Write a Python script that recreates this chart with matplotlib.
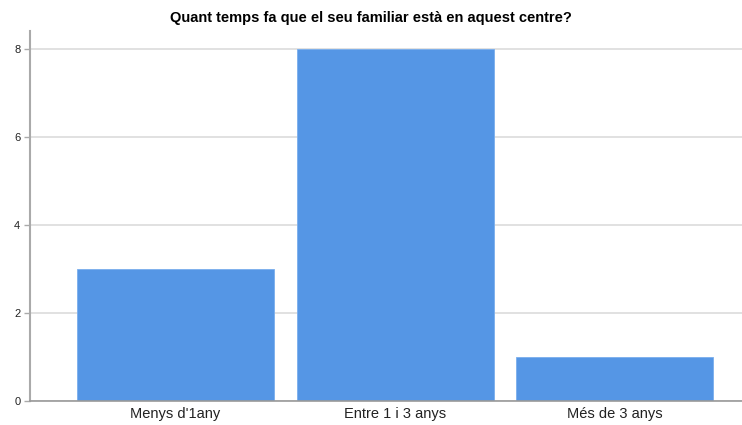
import matplotlib
matplotlib.use('Agg')
import matplotlib.pyplot as plt

plt.rcParams['font.family'] = ['Liberation Sans', 'DejaVu Sans']

categories = ["Menys d'1any", 'Entre 1 i 3 anys', 'Més de 3 anys']
counts = [3, 8, 1]
yticks = [0, 2, 4, 6, 8]
title = 'Quant temps fa que el seu familiar està en aquest centre?'

fig = plt.figure(figsize=(7.42, 4.25), dpi=100)
ax = fig.add_axes([30 / 742, 24 / 425, 1 - 30 / 742, (401 - 31) / 425])

x = range(len(categories))
ax.bar(x, counts, width=0.8975, color='#5596e5', edgecolor='#7aaeed', linewidth=0.6, zorder=3)

ax.set_xlim(-0.663, 2.58)
ax.set_ylim(0, 8.41)
ax.set_yticks(yticks)
ax.set_yticklabels([str(t) for t in yticks], fontsize=8, color='#222222')
ax.set_xticks(list(x))
ax.set_xticklabels(categories, fontsize=10.5, color='#222222')
ax.tick_params(axis='x', length=0, pad=4)
ax.tick_params(axis='y', length=4, color='#aaaaaa', width=1, pad=3)

ax.grid(axis='y', color='#dcdcdc', linewidth=1.2, zorder=0)
for s in ['top', 'right']:
    ax.spines[s].set_visible(False)
ax.spines['left'].set_color('#aaaaaa')
ax.spines['left'].set_linewidth(1.5)
ax.spines['bottom'].set_color('#999999')
ax.spines['bottom'].set_linewidth(1.2)
ax.spines['bottom'].set_zorder(4)

fig.text(0.5, 1 - 18 / 425, title, ha='center', va='center', fontsize=10.5, fontweight='bold')

fig.savefig('out.png', dpi=100)
